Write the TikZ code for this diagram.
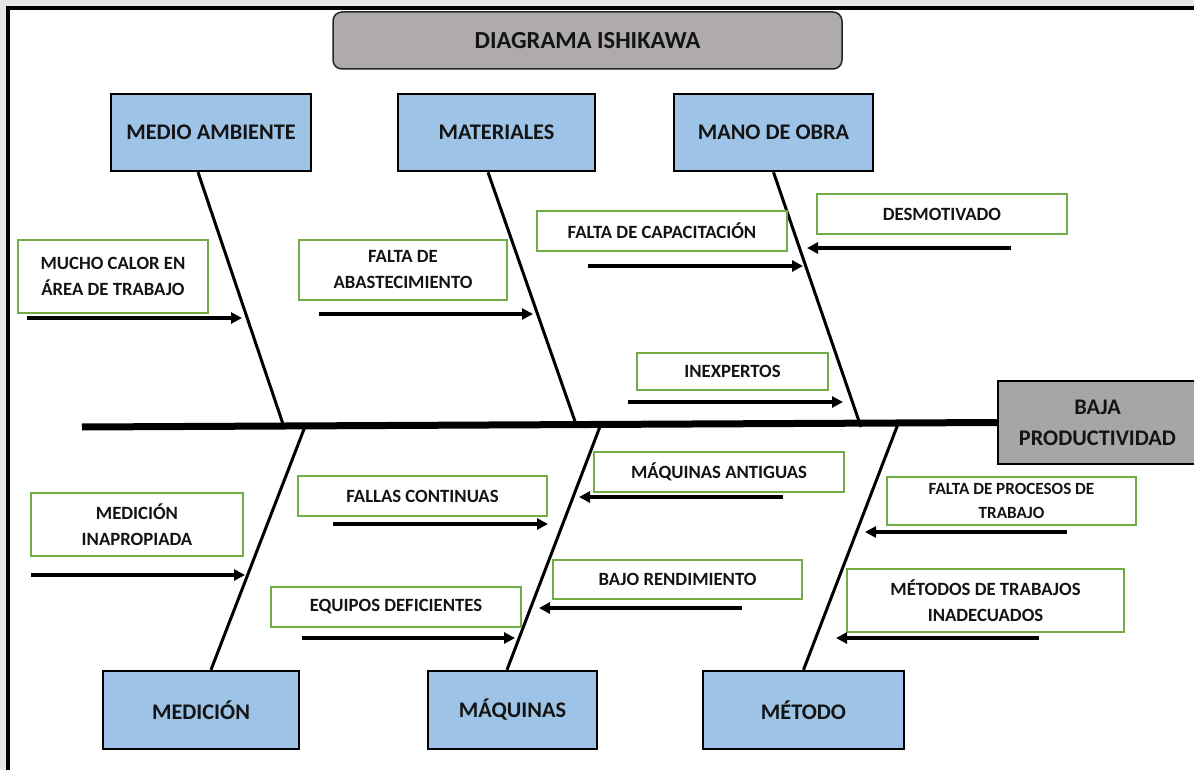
\documentclass[tikz,border=0pt]{standalone}
\usepackage{fontspec}
\setmainfont{Carlito}
\usetikzlibrary{arrows.meta}
\definecolor{catblue}{HTML}{9DC3E6}
\definecolor{causegreen}{HTML}{70AD47}
\definecolor{titlegray}{HTML}{AFABAB}
\definecolor{effgray}{HTML}{A6A6A6}
\definecolor{outergray}{HTML}{E6E6E6}
\definecolor{txt}{HTML}{141414}
\begin{document}
\begin{tikzpicture}[x=1pt,y=-1pt,
  catbox/.style={draw=black, line width=2.5pt, fill=catblue, inner sep=0pt, text=txt,
    font=\fontsize{22.3}{29}\selectfont\bfseries, align=center},
  effbox/.style={draw=black, line width=2.5pt, fill=effgray, inner sep=0pt, text=txt,
    font=\fontsize{22.3}{31}\selectfont\bfseries, align=center},
  titlebox/.style={draw=black!85, line width=1.5pt, fill=titlegray, rounded corners=9pt,
    inner sep=0pt, text=txt, font=\fontsize{24.5}{29}\selectfont\bfseries},
  causebox/.style={draw=causegreen, line width=2pt, fill=white, inner sep=0pt, text=txt,
    font=\fontsize{18.7}{26}\selectfont\bfseries, align=center},
  smallcause/.style={causebox, font=\fontsize{17.1}{24}\selectfont\bfseries},
  bone/.style={line width=3pt, draw=black},
  spine/.style={line width=7pt, draw=black},
  causearrow/.style={line width=3.5pt, draw=black, -{Triangle[length=11pt,width=11pt]}}
]
\useasboundingbox (0,0) rectangle (1194,770);
% background and frame
\fill[outergray] (0,0) rectangle (1194,770);
\draw[line width=4pt, fill=white] (8,8) rectangle (1300,900);

% title
\node[titlebox, minimum width=509pt, minimum height=57pt] (title) at (587.5,40.5) {DIAGRAMA ISHIKAWA};

% category boxes
\node[catbox, minimum width=200pt, minimum height=77pt] (ma) at (211,132.5) {MEDIO AMBIENTE};
\node[catbox, minimum width=197pt, minimum height=77pt] (mat) at (496.5,132.5) {MATERIALES};
\node[catbox, minimum width=199pt, minimum height=77pt] (mo) at (773.5,132.5) {MANO DE OBRA};
\node[catbox, minimum width=196pt, minimum height=78pt] (med) at (201,710) {MEDICIÓN};
\node[catbox, minimum width=169pt, minimum height=78pt] (maq) at (512.5,710) {MÁQUINAS};
\node[catbox, minimum width=201pt, minimum height=78pt] (met) at (803.5,710) {MÉTODO};

% effect box
\node[effbox, minimum width=199pt, minimum height=83pt] (eff) at (1097.5,422.5) {BAJA\\PRODUCTIVIDAD};

% spine coordinates
\coordinate (tail) at (82,427);
\coordinate (s1) at (284,427);
\coordinate (s2) at (577,427);
\coordinate (s3) at (861,427);
\coordinate (s4) at (306,424);
\coordinate (s5) at (601,424);
\coordinate (s6) at (898,424);

% bones
\draw[bone] ([xshift=-13pt]ma.south) -- (s1);
\draw[bone] ([xshift=-8.5pt]mat.south) -- (s2);
\draw[bone] (mo.south) -- (s3);
\draw[bone] (s4) -- ([xshift=10pt]med.north);
\draw[bone] (s5) -- ([xshift=-5.5pt]maq.north);
\draw[bone] (s6) -- (met.north);
\draw[spine] (tail) -- (eff.west);

% cause boxes
\node[causebox, minimum width=190pt, minimum height=73pt] (c1) at (113,276.5) {MUCHO CALOR EN\\ÁREA DE TRABAJO};
\node[causebox, minimum width=208pt, minimum height=60pt] (c2) at (403,270) {FALTA DE\\ABASTECIMIENTO};
\node[causebox, minimum width=250pt, minimum height=40pt] (c3) at (662,231) {FALTA DE CAPACITACIÓN};
\node[causebox, minimum width=250pt, minimum height=40pt] (c4) at (942,214) {DESMOTIVADO};
\node[causebox, minimum width=191pt, minimum height=37pt] (c5) at (732.5,371.5) {INEXPERTOS};
\node[causebox, minimum width=212pt, minimum height=63pt] (c6) at (137,524.5) {MEDICIÓN\\INAPROPIADA};
\node[causebox, minimum width=249pt, minimum height=40pt] (c7) at (422.5,496) {FALLAS CONTINUAS};
\node[causebox, minimum width=250pt, minimum height=40pt] (c8) at (719,472) {MÁQUINAS ANTIGUAS};
\node[causebox, minimum width=250pt, minimum height=40pt] (c9) at (396,607) {EQUIPOS DEFICIENTES};
\node[causebox, minimum width=249pt, minimum height=39pt] (c10) at (677.5,579.5) {BAJO RENDIMIENTO};
\node[smallcause, minimum width=249pt, minimum height=48pt] (c11) at (1011.5,501) {FALTA DE PROCESOS DE\\TRABAJO};
\node[causebox, minimum width=277pt, minimum height=63pt] (c12) at (985.5,600.5) {MÉTODOS DE TRABAJOS\\INADECUADOS};

% arrow end points
\coordinate (a1s) at (27,318);   \coordinate (a1e) at (242,318);
\coordinate (a2s) at (319,314);  \coordinate (a2e) at (533,314);
\coordinate (a3s) at (588,266);  \coordinate (a3e) at (803,266);
\coordinate (a4s) at (1011,248); \coordinate (a4e) at (807,248);
\coordinate (a5s) at (628,402);  \coordinate (a5e) at (843,402);
\coordinate (a6s) at (31,575);   \coordinate (a6e) at (245,575);
\coordinate (a7s) at (333,524);  \coordinate (a7e) at (548,524);
\coordinate (a8s) at (783,497);  \coordinate (a8e) at (579,497);
\coordinate (a9s) at (302,638);  \coordinate (a9e) at (515,638);
\coordinate (a10s) at (742,608); \coordinate (a10e) at (539,608);
\coordinate (a11s) at (1067,532);\coordinate (a11e) at (865,532);
\coordinate (a12s) at (1039,638);\coordinate (a12e) at (836,638);

\foreach \i in {1,...,12} {\draw[causearrow] (a\i s) -- (a\i e);}
\end{tikzpicture}
\end{document}
